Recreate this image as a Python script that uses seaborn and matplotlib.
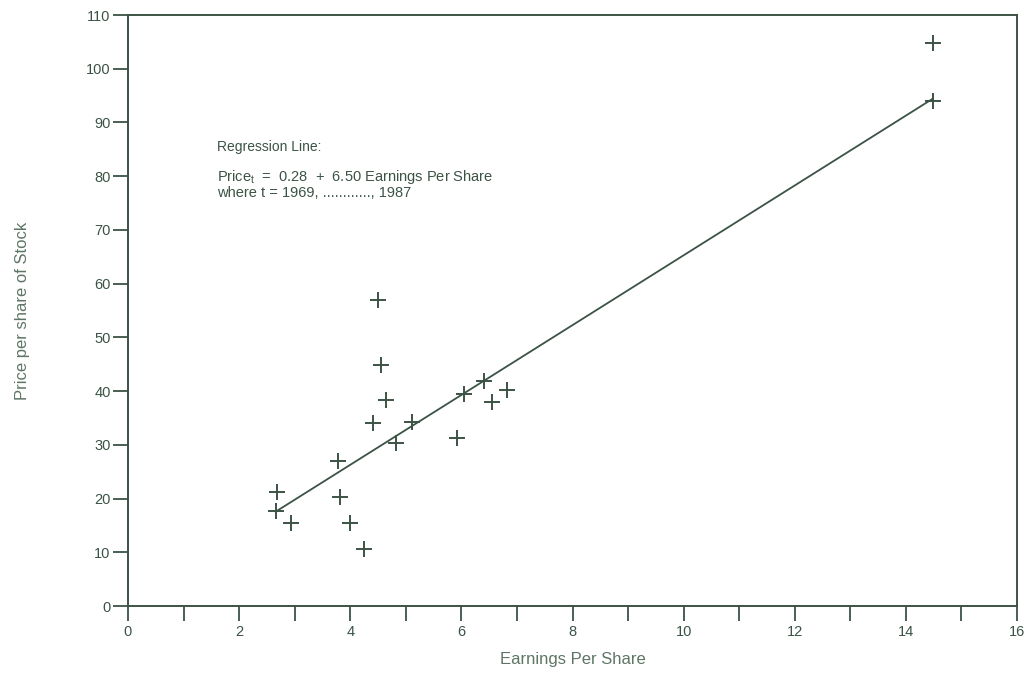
import matplotlib
matplotlib.use("Agg")
import matplotlib.pyplot as plt
from matplotlib.ticker import MultipleLocator
import seaborn as sns
import pandas as pd
import numpy as np

# Data
eps = [14.48, 14.48, 4.50, 4.55, 4.64, 4.41, 5.11, 4.82, 6.04, 6.40,
       6.55, 6.83, 5.92, 3.78, 3.81, 2.68, 2.66, 2.93, 3.99, 4.24]
price = [104.8, 94.0, 57.0, 44.9, 38.3, 34.1, 34.2, 30.3, 39.5, 41.9,
         38.0, 40.2, 31.3, 27.0, 20.3, 21.2, 17.7, 15.4, 15.4, 10.6]
intercept = 0.28
slope = 6.50

x_ticks = [0, 2, 4, 6, 8, 10, 12, 14, 16]
y_ticks = [0, 10, 20, 30, 40, 50, 60, 70, 80, 90, 100, 110]

df = pd.DataFrame({"eps": eps, "price": price})
xl = np.array([min(eps), max(eps)])
line_df = pd.DataFrame({"eps": xl, "price": intercept + slope * xl})

sns.set_theme(style="white")
plt.rcParams["font.family"] = ["Liberation Sans Narrow", "Liberation Sans", "DejaVu Sans"]

ink = "#3b5345"
label_c = "#5e7566"

fig = plt.figure(figsize=(10.32, 6.86), dpi=100)
ax = fig.add_axes([0.124, 0.1166, 0.8615, 0.8615])

sns.lineplot(data=line_df, x="eps", y="price", ax=ax, color=ink, linewidth=1.3)
sns.scatterplot(data=df, x="eps", y="price", ax=ax, marker="+", s=120,
                color=ink, linewidth=1.4, zorder=3)

ax.set_xlim(0, 16)
ax.set_ylim(0, 110)
ax.set_xticks(x_ticks)
ax.set_yticks(y_ticks)
ax.xaxis.set_minor_locator(MultipleLocator(1))

for s in ax.spines.values():
    s.set_color(ink)
    s.set_linewidth(1.4)

ax.tick_params(axis="both", which="both", direction="out", length=11,
               width=1.3, color=ink, labelcolor=ink, labelsize=10.5)
ax.tick_params(axis="x", which="both", bottom=True, pad=3)
ax.tick_params(axis="y", which="both", left=True, pad=1.5)

ax.set_xlabel("Earnings Per Share", fontsize=12, color=label_c, labelpad=9)
ax.set_ylabel("Price per share of Stock", fontsize=12, color=label_c, labelpad=40)

ax.text(1.6, 85.5, "Regression Line:", fontsize=10, color=ink, va="center")
ax.text(1.6, 79.8, "Price$_\\mathregular{t}$  =  0.28  +  6.50 Earnings Per Share",
        fontsize=10.5, color=ink, va="center")
ax.text(1.6, 76.8, "where t = 1969, ............, 1987", fontsize=10.5, color=ink,
        va="center")

fig.savefig("out.png", dpi=100)
